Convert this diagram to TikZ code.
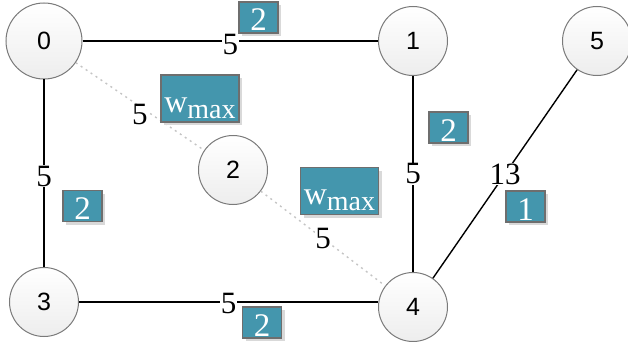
\documentclass[tikz,border=0pt]{standalone}
\usepackage{fontspec}
\setmainfont{Liberation Serif}
\newfontfamily\ringfont{Liberation Sans}
\usepackage{tikz}
\usetikzlibrary{
    positioning,
    shadows
}
\definecolor{Petrol}{HTML}{4496AD}
\definecolor{BoxRim}{HTML}{6E6E6E}
\definecolor{RingGray}{HTML}{7A7A7A}
\definecolor{DotGray}{HTML}{C4C4C4}

\tikzset{
    vertex/.style={
        circle,
        draw=RingGray,
        line width=1pt,
        top color=white,
        bottom color=black!7,
        minimum size=69pt,
        inner sep=0pt,
        font=\ringfont\fontsize{25}{25}\selectfont
    },
    cost/.style={
        fill=white,
        text=black,
        inner sep=0.5pt,
        font=\fontsize{31}{31}\selectfont
    },
    tag/.style={
        fill=Petrol,
        draw=BoxRim,
        line width=1.2pt,
        text=white,
        inner sep=0pt,
        minimum width=39pt,
        minimum height=31pt,
        text height=27pt,
        text depth=0pt,
        font=\fontsize{33}{33}\selectfont,
        drop shadow={shadow xshift=3pt, shadow yshift=-3pt, fill=black!15, opacity=1}
    },
    maxtag/.style={
        tag,
        minimum width=78pt,
        minimum height=47pt,
        text height=32pt,
        text depth=5pt,
        font=\fontsize{32}{32}\selectfont
    },
    link/.style={line width=1.4pt},
    hint/.style={DotGray, line width=1.4pt, dash pattern=on 2pt off 4pt}
}
\newcommand{\wmax}{w\raisebox{-6pt}{\fontsize{28}{28}\selectfont max}}

\begin{document}
\begin{tikzpicture}[x=1pt, y=-1pt]

    \useasboundingbox (0,0) rectangle (628,342);

    % vertices
    \node[vertex, minimum size=76pt] (n0) at (44,41) {0};
    \node[vertex] (n1) at (413,41) {1};
    \node[vertex] (n2) at (233,170) {2};
    \node[vertex] (n3) at (44,302) {3};
    \node[vertex] (n4) at (413,307) {4};
    \node[vertex] (n5) at (597,41) {5};

    % edges
    \draw[link] (n0) -- node[cost, yshift=-4pt]{5} (n1);
    \draw[link] (n0) -- node[cost, yshift=-3pt]{5} (n3);
    \draw[link] (n1) -- node[cost]{5} (n4);
    \draw[link] (n3) -- node[cost, yshift=-1pt]{5} (n3 -| n4.west);
    \draw[link] (n4) -- node[cost]{13} (n5);
    \draw[hint] (n0) -- node[cost, yshift=-8pt]{5} (n2);
    \draw[hint] (n2) -- node[cost]{5} (n4);

    % weights
    \node[tag] (t01) at (258.5,17.5) {2};
    \node[tag] (t03) at (82.5,206) {2};
    \node[tag] (t14) at (448.5,127.5) {2};
    \node[tag] (t34) at (262,322.5) {2};
    \node[tag] (t45) at (525.5,206.5) {1};
    \node[maxtag] (t02) at (200,98.5) {\wmax};
    \node[maxtag] (t24) at (339.5,191) {\wmax};

\end{tikzpicture}
\end{document}
